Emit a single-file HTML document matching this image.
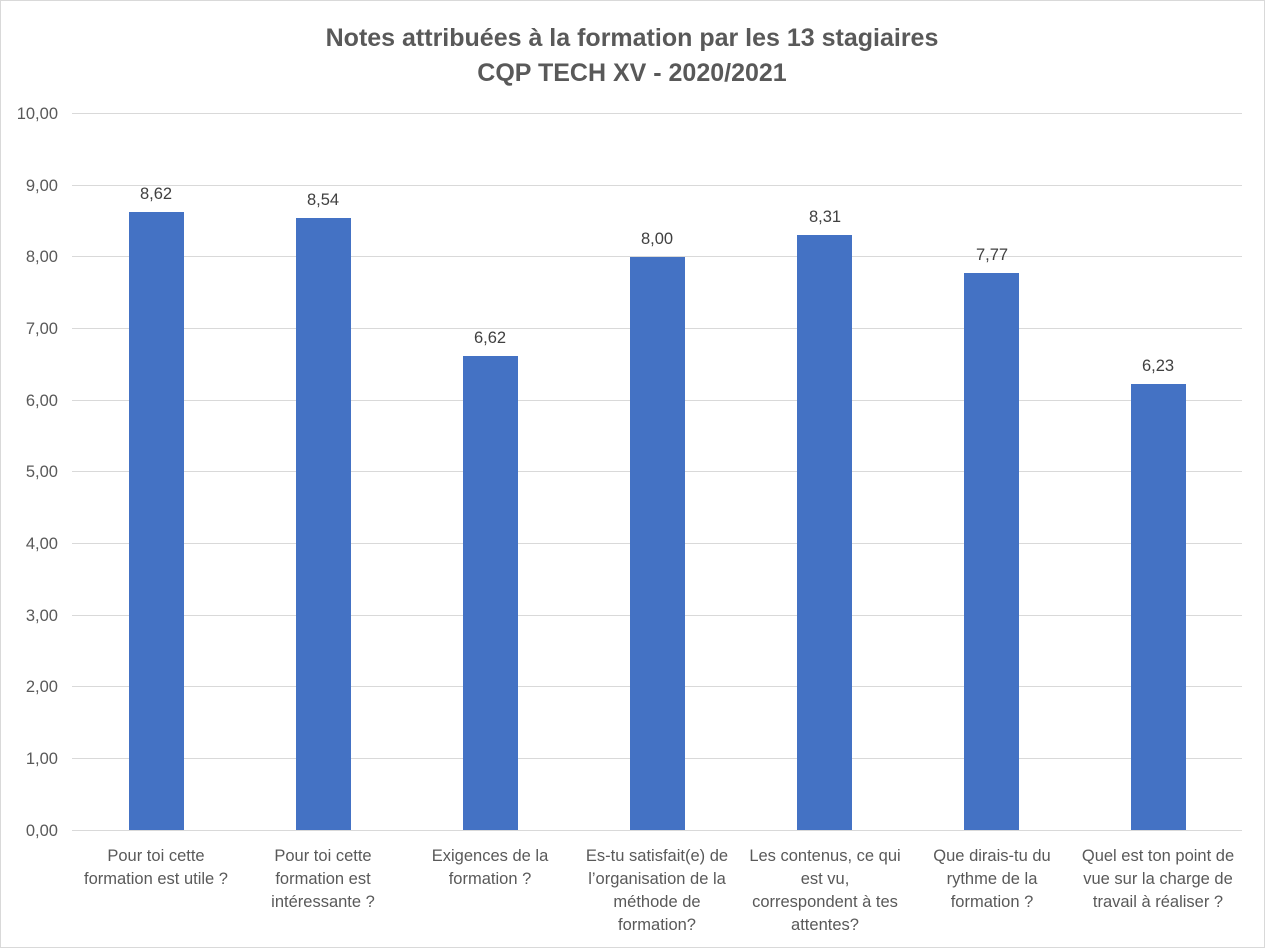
<!DOCTYPE html>
<html><head><meta charset="utf-8"><style>
body{margin:0;background:#fff;}
svg{display:block;font-family:"Liberation Sans",sans-serif;}
</style></head><body>
<svg width="1265" height="948" xmlns="http://www.w3.org/2000/svg">
<rect x="0.5" y="0.5" width="1264" height="947" fill="#fff" stroke="#d9d9d9"/>
<g fill="#595959" font-weight="bold" font-size="25" text-anchor="middle">
<text x="632" y="46">Notes attribuées à la formation par les 13 stagiaires</text>
<text x="632" y="81">CQP TECH XV - 2020/2021</text>
</g>
<g stroke="#d9d9d9" stroke-width="1">
<line x1="72" x2="1242" y1="113.5" y2="113.5"/>
<line x1="72" x2="1242" y1="185.5" y2="185.5"/>
<line x1="72" x2="1242" y1="256.5" y2="256.5"/>
<line x1="72" x2="1242" y1="328.5" y2="328.5"/>
<line x1="72" x2="1242" y1="400.5" y2="400.5"/>
<line x1="72" x2="1242" y1="471.5" y2="471.5"/>
<line x1="72" x2="1242" y1="543.5" y2="543.5"/>
<line x1="72" x2="1242" y1="615.5" y2="615.5"/>
<line x1="72" x2="1242" y1="686.5" y2="686.5"/>
<line x1="72" x2="1242" y1="758.5" y2="758.5"/>
<line x1="72" x2="1242" y1="830.5" y2="830.5"/>
</g>
<g fill="#595959" font-size="16.5" text-anchor="end">
<text x="58" y="119">10,00</text><text x="58" y="191">9,00</text><text x="58" y="262">8,00</text>
<text x="58" y="334">7,00</text><text x="58" y="406">6,00</text><text x="58" y="477">5,00</text>
<text x="58" y="549">4,00</text><text x="58" y="621">3,00</text><text x="58" y="692">2,00</text>
<text x="58" y="764">1,00</text><text x="58" y="836">0,00</text>
</g>
<g fill="#4472c4">
<rect x="129" y="212" width="55" height="618"/>
<rect x="296" y="218" width="55" height="612"/>
<rect x="463" y="356" width="55" height="474"/>
<rect x="630" y="257" width="55" height="573"/>
<rect x="797" y="235" width="55" height="595"/>
<rect x="964" y="273" width="55" height="557"/>
<rect x="1131" y="384" width="55" height="446"/>
</g>
<g fill="#404040" font-size="16.5" text-anchor="middle">
<text x="156" y="199">8,62</text><text x="323" y="205">8,54</text><text x="490" y="343">6,62</text>
<text x="657" y="244">8,00</text><text x="825" y="222">8,31</text><text x="992" y="260">7,77</text>
<text x="1158" y="371">6,23</text>
</g>
<g fill="#595959" font-size="16.5" text-anchor="middle">
<text x="156" y="861">Pour toi cette</text><text x="156" y="884">formation est utile ?</text>
<text x="323" y="861">Pour toi cette</text><text x="323" y="884">formation est</text><text x="323" y="907">intéressante ?</text>
<text x="490" y="861">Exigences de la</text><text x="490" y="884">formation ?</text>
<text x="657" y="861">Es-tu satisfait(e) de</text><text x="657" y="884">l’organisation de la</text><text x="657" y="907">méthode de</text><text x="657" y="930">formation?</text>
<text x="825" y="861">Les contenus, ce qui</text><text x="825" y="884">est vu,</text><text x="825" y="907">correspondent à tes</text><text x="825" y="930">attentes?</text>
<text x="992" y="861">Que dirais-tu du</text><text x="992" y="884">rythme de la</text><text x="992" y="907">formation ?</text>
<text x="1158" y="861">Quel est ton point de</text><text x="1158" y="884">vue sur la charge de</text><text x="1158" y="907">travail à réaliser ?</text>
</g>
</svg>
</body></html>
